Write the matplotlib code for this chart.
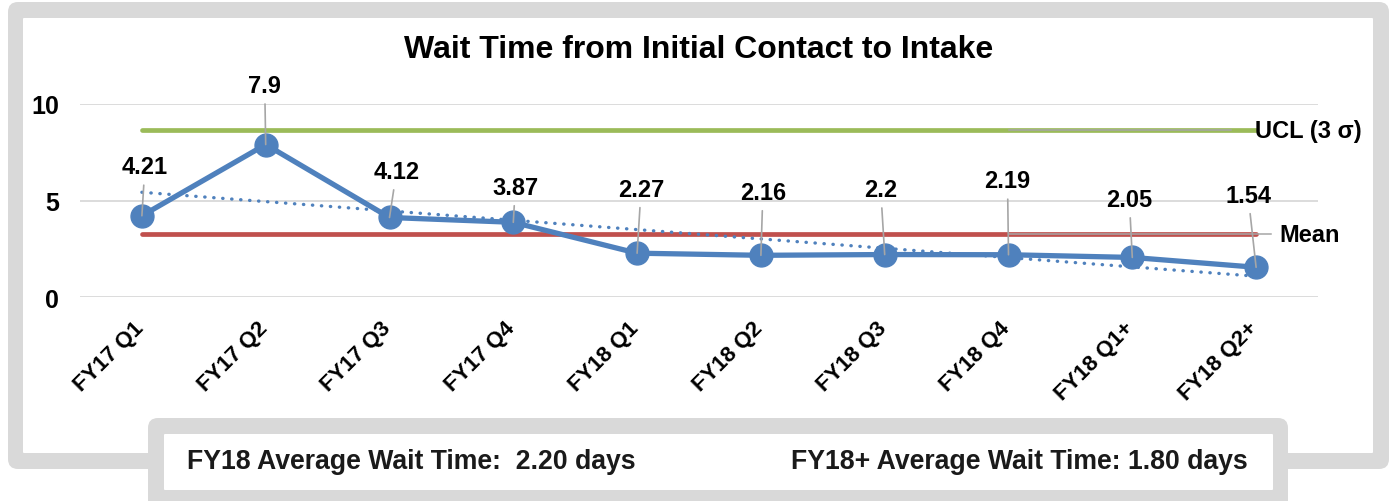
import numpy as np
import matplotlib
matplotlib.use("Agg")
import matplotlib.pyplot as plt
import matplotlib.transforms as mtransforms
from matplotlib.patches import FancyBboxPatch

plt.rcParams["font.family"] = ["Liberation Sans", "DejaVu Sans"]
plt.rcParams["font.weight"] = "bold"

quarters = ["FY17 Q1", "FY17 Q2", "FY17 Q3", "FY17 Q4", "FY18 Q1",
            "FY18 Q2", "FY18 Q3", "FY18 Q4", "FY18 Q1+", "FY18 Q2+"]
wait_days = [4.21, 7.9, 4.12, 3.87, 2.27, 2.16, 2.2, 2.19, 2.05, 1.54]
ucl = 8.65
mean_line = 3.25
y_ticks = [0, 5, 10]
note_fy18 = "FY18 Average Wait Time:  2.20 days"
note_fy18p = "FY18+ Average Wait Time: 1.80 days"

# label placement (pixels, label centre relative to its point)
lab_off = [(3, 49), (-1, 59), (7, 46), (2, 35), (4, 64),
           (2, 63), (-4, 65), (-1, 74), (-3, 58), (-8, 72)]

W, H = 1389, 502
fig = plt.figure(figsize=(W / 100, H / 100), dpi=100)
fig.patch.set_facecolor("white")

def box(x0, y0, x1, y1, color, r=10):
    # pixel coords measured from the top-left corner
    p = FancyBboxPatch((x0 / W, 1 - y1 / H), (x1 - x0) / W, (y1 - y0) / H,
                       boxstyle=f"round,pad=0,rounding_size={r / W}",
                       transform=fig.transFigure, facecolor=color,
                       edgecolor="none", zorder=-5, mutation_aspect=W / H)
    fig.patches.append(p)

GREY = "#D9D9D9"
box(8, 3, 1389, 470, GREY, 10)
box(23, 19, 1373, 454, "white", 1)
box(148, 419, 1288, 520, GREY, 10)
box(164, 435, 1273, 491, "white", 1)

x = np.arange(len(quarters))
ax = fig.add_axes([80 / W, 1 - 298 / H, 1238 / W, 193 / H])
ax.set_facecolor("none")
ax.set_xlim(-0.5, len(quarters) - 0.5)
ax.set_ylim(0, 10)
for s in ax.spines.values():
    s.set_visible(False)
ax.set_yticks(y_ticks)
ax.set_yticklabels([str(t) for t in y_ticks], fontsize=18, fontweight="bold")
ax.yaxis.grid(True, color=GREY, lw=1.3)
ax.set_axisbelow(True)
ax.tick_params(length=0)
ax.tick_params(axis="y", pad=15)
ax.tick_params(axis="x", pad=14.5)
ax.set_xticks(x)
ax.set_xticklabels(quarters, rotation=45, ha="right", rotation_mode="anchor",
                   fontsize=16, fontweight="bold")
shift = mtransforms.ScaledTranslation(-9 / 100, 0, fig.dpi_scale_trans)
for t in ax.get_xticklabels():
    t.set_transform(t.get_transform() + shift)

# control lines
ax.plot([x[0], x[-1]], [ucl, ucl], color="#9BBB59", lw=3.4,
        solid_capstyle="round", zorder=2)
ax.plot([x[0], x[-1]], [mean_line, mean_line], color="#C0504D", lw=3.4,
        solid_capstyle="round", zorder=2)

# linear trend
k, b = np.polyfit(x, wait_days, 1)
ax.plot(x, k * x + b, color="#4F81BD", lw=2.4, ls=(0, (0.1, 2.6)),
        dash_capstyle="round", zorder=3)

ax.plot(x, wait_days, color="#4F81BD", lw=3.8, marker="o", ms=16.5,
        zorder=4, clip_on=False)

for xi, v, (dx, dy) in zip(x, wait_days, lab_off):
    ax.annotate(f"{v:g}", xy=(xi, v), xytext=(dx * 0.72, dy * 0.72),
                textcoords="offset points", ha="center", va="center",
                fontsize=17, fontweight="bold", color="black",
                arrowprops=dict(arrowstyle="-", color="#A6A6A6", lw=1.2,
                                shrinkA=3, shrinkB=0),
                zorder=6, annotation_clip=False)

# series labels with their leader lines
ax.plot([7.0, 8.8], [ucl, ucl], color="#A6A6A6", lw=1.1, zorder=5)
ax.plot([7.0, 9.12], [mean_line, mean_line], color="#A6A6A6", lw=1.1,
        zorder=5, clip_on=False)
ax.text(8.99, ucl, "UCL (3 σ)", ha="left", va="center", fontsize=17,
        fontweight="bold", zorder=6, clip_on=False)
ax.text(9.19, mean_line, "Mean", ha="left", va="center", fontsize=17,
        fontweight="bold", zorder=6, clip_on=False)

fig.text(699 / W, 1 - 50 / H, "Wait Time from Initial Contact to Intake",
         ha="center", va="center", fontsize=23, fontweight="bold")

fig.text(187 / W, 1 - 462 / H, note_fy18, ha="left", va="center",
         fontsize=19.2, fontweight="bold", color="#1A1A1A")
fig.text(1248 / W, 1 - 462 / H, note_fy18p, ha="right", va="center",
         fontsize=19.2, fontweight="bold", color="#1A1A1A")

fig.savefig("out.png", dpi=100)
